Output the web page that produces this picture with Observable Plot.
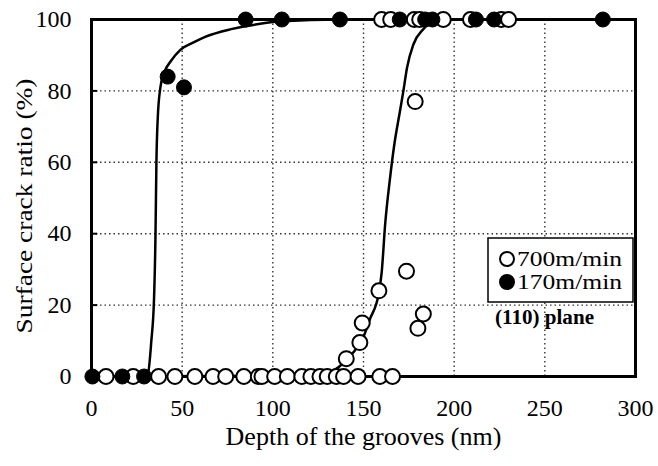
<!DOCTYPE html>
<html><head><meta charset="utf-8">
<script src="https://cdn.jsdelivr.net/npm/d3@7"></script>
<script src="https://cdn.jsdelivr.net/npm/@observablehq/plot@0.6"></script>
<style>body{margin:0;background:#fff;}</style>
</head><body><div id="chart"></div>
<script>
// ---- data ----
const xTicks = [0, 50, 100, 150, 200, 250, 300];
const yTicks = [0, 20, 40, 60, 80, 100];
const xGrid = [50, 100, 150, 200, 250];
const yGrid = [20, 40, 60, 80];

// 700 m/min (open circles)
const open700X = [8, 23, 37, 46, 57, 67, 74, 84, 92, 94, 101, 108, 116, 121, 126, 130, 135, 139, 147, 159, 166,
                  140.5, 148, 149.3, 158.5, 173.7, 180, 183, 178.5,
                  160, 165, 178, 181, 194, 209, 226, 230];
const open700Y = [0, 0, 0, 0, 0, 0, 0, 0, 0, 0, 0, 0, 0, 0, 0, 0, 0, 0, 0, 0, 0,
                  5, 9.5, 15, 24, 29.5, 13.5, 17.5, 77,
                  100, 100, 100, 100, 100, 100, 100, 100];

// 170 m/min (filled circles)
const filled170X = [0.5, 17, 29, 42, 51, 85, 105, 137, 170, 184, 188, 212, 222, 282];
const filled170Y = [0, 0, 0, 84, 81, 100, 100, 100, 100, 100, 100, 100, 100, 100];

// fitted curves
const curve700X = [0, 125, 134.5, 143, 149.5, 153.5, 158.5, 160, 162, 164.5, 167, 170, 172, 174, 177.5, 183, 188, 195, 300];
const curve700Y = [0, 0.3, 2, 6, 10.5, 16, 23.5, 29, 43, 55, 65, 74, 80, 86.5, 93, 97.3, 99.5, 100, 100];
const curve170X = [0, 29, 31, 33, 34.5, 35.3, 35.8, 36.5, 38, 40, 44, 49, 56, 63, 77, 93, 105, 137, 300];
const curve170Y = [0, 0, 0.5, 10, 22, 40, 60, 72, 81, 85, 88.5, 91.5, 93.5, 95.2, 97.3, 98.8, 99.5, 100, 100];

const seriesNames = ["700m/min", "170m/min"];
const planeLabel = "(110) plane";
const xLabel = "Depth of the grooves (nm)";
const yLabel = "Surface crack ratio (%)";

// ---- build tables ----
const openPts = open700X.map((x, i) => ({x, y: open700Y[i]}));
const filledPts = filled170X.map((x, i) => ({x, y: filled170Y[i]}));
const c700 = curve700X.map((x, i) => ({x, y: curve700Y[i]}));
const c170 = curve170X.map((x, i) => ({x, y: curve170Y[i]}));

const FONT = "Liberation Serif";

const chart = Plot.plot({
  width: 658,
  height: 466,
  marginLeft: 91,
  marginRight: 23,
  marginTop: 19,
  marginBottom: 90,
  style: {fontFamily: FONT, color: "black", background: "white"},
  x: {domain: [0, 300]},
  y: {domain: [0, 100]},
  marks: [
    Plot.gridX(xGrid, {stroke: "#111", strokeOpacity: 0.85, strokeWidth: 1.4, strokeDasharray: "1.5,3"}),
    Plot.gridY(yGrid, {stroke: "#111", strokeOpacity: 0.85, strokeWidth: 1.4, strokeDasharray: "1.5,3"}),
    Plot.ruleY(yGrid, {x1: 0, x2: 3.5, stroke: "black", strokeWidth: 2}),
    Plot.axisX(xTicks, {tickSize: 0, tickPadding: 22, fontSize: 24, label: null}),
    Plot.axisY(yTicks, {tickSize: 0, tickPadding: 20, fontSize: 24, label: null}),
    Plot.frame({stroke: "black", strokeWidth: 3}),
    Plot.line(c700, {x: "x", y: "y", curve: "monotone-x", stroke: "black", strokeWidth: 2.5}),
    Plot.line(c170, {x: "x", y: "y", curve: "monotone-x", stroke: "black", strokeWidth: 2.5}),
    Plot.dot(openPts, {x: "x", y: "y", r: 7.5, fill: "white", stroke: "black", strokeWidth: 2}),
    Plot.dot(filledPts, {x: "x", y: "y", r: 7.5, fill: "black", stroke: "black", strokeWidth: 1}),
    Plot.text([xLabel], {frameAnchor: "bottom", dy: 68, fontSize: 26, fill: "black"}),
    Plot.text([yLabel], {frameAnchor: "left", textAnchor: "middle", dx: -67, dy: 8, rotate: -90, fontSize: 24, fill: "black"})
  ]
});

// stretch the y title to the width it has in the picture
d3.select(chart).selectAll("text").filter(function () { return this.textContent === yLabel; })
  .attr("textLength", 255).attr("lengthAdjust", "spacingAndGlyphs");

// legend (drawn into the same SVG)
const svg = d3.select(chart);
const lg = svg.append("g").attr("font-family", FONT).attr("text-anchor", "start");
lg.append("rect").attr("x", 488).attr("y", 238).attr("width", 145).attr("height", 64)
  .attr("fill", "white").attr("stroke", "black").attr("stroke-width", 1.5);
seriesNames.forEach((name, i) => {
  const cy = 259 + i * 23;
  lg.append("circle").attr("cx", 507).attr("cy", cy).attr("r", 7)
    .attr("fill", i === 0 ? "white" : "black").attr("stroke", "black").attr("stroke-width", 2);
  lg.append("text").attr("x", 517).attr("y", cy + 7).attr("font-size", 22).attr("fill", "black")
    .attr("textLength", 105).attr("lengthAdjust", "spacingAndGlyphs").text(name);
});
lg.append("text").attr("x", 495).attr("y", 324).attr("font-size", 20).attr("font-weight", "bold")
  .attr("fill", "black").attr("textLength", 99).attr("lengthAdjust", "spacingAndGlyphs").text(planeLabel);

document.getElementById("chart").appendChild(chart);
</script>
</body></html>
